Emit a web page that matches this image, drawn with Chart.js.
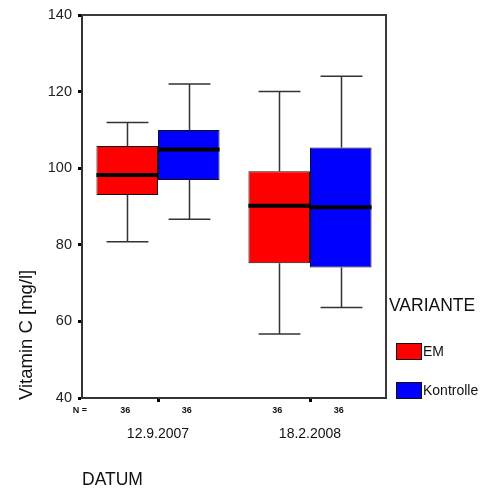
<!DOCTYPE html>
<html>
<head>
<meta charset="utf-8">
<script src="https://cdn.jsdelivr.net/npm/chart.js@4/dist/chart.umd.min.js"></script>
<style>
  html, body { margin: 0; background: #fff; }
  #wrap { width: 480px; height: 489px; }
</style>
</head>
<body>
<div id="wrap"><canvas id="boxChart"></canvas></div>
<script>
// categories and groups
const dates = ['12.9.2007', '18.2.2008'];
const variants = ['EM', 'Kontrolle'];
const variantColors = ['#ff0000', '#0000ff'];

// five-number summaries per variant (one value per date)
const emMin = [80.8, 56.7];
const emQ1 = [93.0, 75.2];
const emMedian = [98.2, 90.2];
const emQ3 = [105.8, 99.2];
const emMax = [111.9, 120.0];
const emN = [36, 36];

const koMin = [86.7, 63.6];
const koQ1 = [96.9, 74.1];
const koMedian = [104.9, 89.8];
const koQ3 = [110.0, 105.4];
const koMax = [122.0, 124.0];
const koN = [36, 36];

const yTicks = [40, 60, 80, 100, 120, 140];

const stats = [
    { min: emMin, q1: emQ1, med: emMedian, q3: emQ3, max: emMax, n: emN },
    { min: koMin, q1: koQ1, med: koMedian, q3: koQ3, max: koMax, n: koN }
];

const FONT = 'Arial, "Liberation Sans", sans-serif';

// whiskers, medians, frame, extra labels and legend
const boxPlotExtras = {
    id: 'boxPlotExtras',
    beforeDatasetsDraw(chart) {
        const ctx = chart.ctx;
        const y = chart.scales.y;
        ctx.save();
        ctx.strokeStyle = '#333';
        ctx.lineWidth = 1.5;
        stats.forEach((s, d) => {
            chart.getDatasetMeta(d).data.forEach((bar, i) => {
                const cx = Math.round(bar.x) + 0.5;
                const half = bar.width * 0.34;
                const yMax = y.getPixelForValue(s.max[i]);
                const yMin = y.getPixelForValue(s.min[i]);
                ctx.beginPath();
                ctx.moveTo(cx, y.getPixelForValue(s.q3[i]));
                ctx.lineTo(cx, yMax);
                ctx.moveTo(cx - half, yMax);
                ctx.lineTo(cx + half, yMax);
                ctx.moveTo(cx, y.getPixelForValue(s.q1[i]));
                ctx.lineTo(cx, yMin);
                ctx.moveTo(cx - half, yMin);
                ctx.lineTo(cx + half, yMin);
                ctx.stroke();
            });
        });
        ctx.restore();
    },
    afterDatasetsDraw(chart) {
        const ctx = chart.ctx;
        const y = chart.scales.y;
        const area = chart.chartArea;
        ctx.save();
        // medians
        ctx.strokeStyle = '#000';
        ctx.lineWidth = 4;
        stats.forEach((s, d) => {
            chart.getDatasetMeta(d).data.forEach((bar, i) => {
                const my = y.getPixelForValue(s.med[i]);
                ctx.beginPath();
                ctx.moveTo(bar.x - bar.width / 2, my);
                ctx.lineTo(bar.x + bar.width / 2, my);
                ctx.stroke();
            });
        });
        // top and right frame
        ctx.strokeStyle = '#3a3a3a';
        ctx.lineWidth = 2;
        ctx.beginPath();
        ctx.moveTo(area.left, area.top);
        ctx.lineTo(area.right, area.top);
        ctx.lineTo(area.right, area.bottom);
        ctx.stroke();
        ctx.restore();
    },
    afterDraw(chart) {
        const ctx = chart.ctx;
        const area = chart.chartArea;
        ctx.save();
        ctx.fillStyle = '#111';

        // N row
        ctx.font = 'bold 9px ' + FONT;
        ctx.textAlign = 'center';
        ctx.textBaseline = 'middle';
        ctx.fillText('N =', 80, 411);
        stats.forEach((s, d) => {
            chart.getDatasetMeta(d).data.forEach((bar, i) => {
                ctx.fillText(String(s.n[i]), bar.x - 2, 411);
            });
        });

        // x title
        ctx.font = '17.5px ' + FONT;
        ctx.textAlign = 'left';
        ctx.fillText('DATUM', area.left, 480);

        // y title
        ctx.save();
        ctx.translate(32, 400);
        ctx.rotate(-Math.PI / 2);
        ctx.font = '18.5px ' + FONT;
        ctx.textAlign = 'left';
        ctx.textBaseline = 'alphabetic';
        ctx.fillText('Vitamin C [mg/l]', 0, 0);
        ctx.restore();

        // legend
        ctx.font = '17.5px ' + FONT;
        ctx.textBaseline = 'middle';
        ctx.fillText('VARIANTE', 389, 306);
        const swatchY = [343, 382];
        variants.forEach((name, d) => {
            ctx.fillStyle = variantColors[d];
            ctx.fillRect(396, swatchY[d], 26, 17);
            ctx.strokeStyle = '#111';
            ctx.lineWidth = 1;
            ctx.strokeRect(396.5, swatchY[d] + 0.5, 25, 16);
            ctx.fillStyle = '#111';
            ctx.font = '14px ' + FONT;
            ctx.fillText(name, 423, swatchY[d] + 9);
        });
        ctx.restore();
    }
};

const datasets = variants.map((name, d) => ({
    label: name,
    data: stats[d].q1.map((q1, i) => [q1, stats[d].q3[i]]),
    backgroundColor: variantColors[d],
    borderColor: '#111',
    borderWidth: 1,
    borderSkipped: false,
    categoryPercentage: 0.81,
    barPercentage: 1.0
}));

new Chart(document.getElementById('boxChart'), {
    type: 'bar',
    data: { labels: dates, datasets: datasets },
    options: {
        responsive: true,
        maintainAspectRatio: false,
        animation: false,
        layout: { padding: { top: 15, right: 94, left: 0, bottom: 0 } },
        plugins: {
            legend: { display: false },
            tooltip: { enabled: false }
        },
        scales: {
            x: {
                grid: { drawOnChartArea: false, offset: false, tickLength: 4, tickWidth: 3, tickColor: '#000' },
                border: { display: true, color: '#333', width: 2 },
                ticks: { color: '#111', font: { family: FONT, size: 14 }, padding: 24 },
                afterFit(scale) { scale.height = 91; }
            },
            y: {
                min: 40,
                max: 140,
                afterBuildTicks(scale) { scale.ticks = yTicks.map(v => ({ value: v })); },
                grid: { drawOnChartArea: false, tickLength: 4, tickWidth: 3, tickColor: '#000' },
                border: { display: true, color: '#333', width: 2 },
                ticks: { color: '#222', font: { family: FONT, size: 14.5 }, padding: 6 },
                afterFit(scale) { scale.width = 82; }
            }
        }
    },
    plugins: [boxPlotExtras]
});
</script>
</body>
</html>
